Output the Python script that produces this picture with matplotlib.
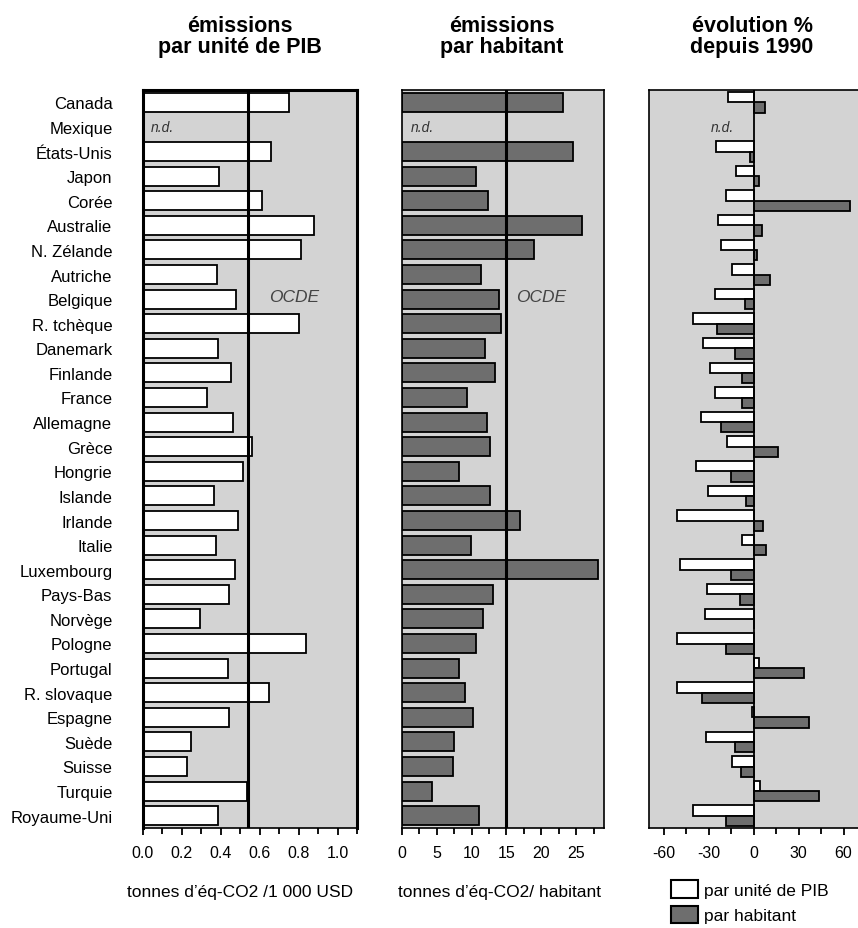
import matplotlib
matplotlib.use("Agg")
import matplotlib.pyplot as plt
import numpy as np
from matplotlib.patches import Patch
from matplotlib.ticker import MultipleLocator

plt.rcParams['font.family'] = ['Liberation Sans', 'DejaVu Sans']

pays = ["Canada", "Mexique", "États-Unis", "Japon", "Corée", "Australie", "N. Zélande",
        "Autriche", "Belgique", "R. tchèque", "Danemark", "Finlande", "France", "Allemagne",
        "Grèce", "Hongrie", "Islande", "Irlande", "Italie", "Luxembourg", "Pays-Bas",
        "Norvège", "Pologne", "Portugal", "R. slovaque", "Espagne", "Suède", "Suisse",
        "Turquie", "Royaume-Uni"]

# tonnes d'éq-CO2 / 1 000 USD
par_pib = [0.75, np.nan, 0.66, 0.39, 0.61, 0.88, 0.81, 0.38, 0.48, 0.80, 0.385, 0.45,
           0.33, 0.465, 0.56, 0.515, 0.365, 0.49, 0.375, 0.475, 0.44, 0.295, 0.84, 0.435,
           0.65, 0.44, 0.245, 0.225, 0.535, 0.385]
ocde_pib = 0.54

# tonnes d'éq-CO2 / habitant
par_hab = [23.1, np.nan, 24.5, 10.6, 12.4, 25.8, 18.9, 11.3, 13.9, 14.2, 11.9, 13.3,
           9.3, 12.2, 12.6, 8.2, 12.6, 16.9, 9.9, 28.1, 13.1, 11.7, 10.6, 8.2, 9.1, 10.2,
           7.5, 7.3, 4.3, 11.1]
ocde_hab = 15

# évolution % depuis 1990
evol_pib = [-17.4, np.nan, -25.2, -11.6, -18.8, -24.2, -22.1, -14.5, -25.9, -40.9, -33.6,
            -29.3, -25.9, -35.3, -17.7, -38.7, -30.4, -51.2, -8.0, -49.2, -31.3, -32.4,
            -51.4, 3.4, -51.4, -1.1, -32.0, -14.8, 4.3, -40.9]
evol_hab = [7.6, np.nan, -2.2, 3.4, 64.4, 5.6, 2.3, 10.7, -6.0, -24.8, -12.3, -7.8, -8.0,
            -21.9, 15.9, -15.4, -5.1, 6.3, 8.5, -15.4, -9.2, 0.0, -18.5, 33.8, -34.6, 37.2,
            -12.3, -8.3, 43.4, -18.5]

GRIS = "#d3d3d3"
FONCE = "#6e6e6e"
W, H = 858, 929

fig = plt.figure(figsize=(W / 100, H / 100), dpi=100)
fig.patch.set_facecolor("white")

def rect(x0, x1):
    return [x0 / W, 1 - 829 / H, (x1 - x0) / W, 738 / H]

ax1 = fig.add_axes(rect(143, 357))
ax2 = fig.add_axes(rect(402, 604))
ax3 = fig.add_axes(rect(649, 860))

y = np.arange(len(pays))

for ax in (ax1, ax2, ax3):
    ax.set_facecolor(GRIS)
    ax.set_ylim(len(pays) - 0.5, -0.5)
    ax.tick_params(axis='y', length=0)
    ax.tick_params(axis='x', which='both', direction='out', length=5, width=1.3,
                   labelsize=11.5, pad=7)
    ax.tick_params(axis='x', which='minor', length=4)
    for s in ax.spines.values():
        s.set_linewidth(1.2)

# panneau 1
ax1.barh(y, par_pib, height=0.78, color="white", edgecolor="black", linewidth=1.3, zorder=2)
ax1.axvline(ocde_pib, color="black", lw=2.2, zorder=3)
ax1.set_xlim(0, 1.1)
ax1.xaxis.set_major_locator(MultipleLocator(0.2))
ax1.xaxis.set_minor_locator(MultipleLocator(0.1))
ax1.set_xticks([0, 0.2, 0.4, 0.6, 0.8, 1.0])
ax1.set_xticklabels(["0.0", "0.2", "0.4", "0.6", "0.8", "1.0"])
ax1.set_yticks(y)
ax1.set_yticklabels(pays, fontsize=12)
ax1.tick_params(axis='y', pad=22)
for s in ("left", "top", "right"):
    ax1.spines[s].set_linewidth(2.2)
ax1.text(0.04, 1, "n.d.", style="italic", fontsize=10, color="#333333", va="center")
ax1.text(0.775, 7.9, "OCDE", style="italic", fontsize=12.5, color="#444444",
         ha="center", va="center")

# panneau 2
ax2.barh(y, par_hab, height=0.78, color=FONCE, edgecolor="black", linewidth=1.3, zorder=2)
ax2.axvline(ocde_hab, color="black", lw=2.2, zorder=3)
ax2.set_xlim(0, 29)
ax2.xaxis.set_major_locator(MultipleLocator(5))
ax2.xaxis.set_minor_locator(MultipleLocator(2.5))
ax2.set_yticks([])
ax2.text(1.3, 1, "n.d.", style="italic", fontsize=10, color="#333333", va="center")
ax2.text(20, 7.9, "OCDE", style="italic", fontsize=12.5, color="#444444",
         ha="center", va="center")

# panneau 3
ax3.barh(y - 0.21, evol_pib, height=0.42, color="white", edgecolor="black", linewidth=1.3,
         zorder=2)
ax3.barh(y + 0.21, evol_hab, height=0.42, color=FONCE, edgecolor="black", linewidth=1.3,
         zorder=2)
ax3.axvline(0, color="black", lw=1.3, zorder=3)
ax3.set_xlim(-70, 71)
ax3.xaxis.set_major_locator(MultipleLocator(30))
ax3.xaxis.set_minor_locator(MultipleLocator(15))
ax3.set_xticks([-60, -30, 0, 30, 60])
ax3.set_xticklabels(["-60", "-30", "0", "30", "60"])
ax3.set_yticks([])
ax3.text(-29, 1, "n.d.", style="italic", fontsize=10, color="#333333", va="center")

# titres
titre = dict(fontweight="bold", fontsize=15.5, ha="center", va="center", linespacing=1.05)
fig.text(240 / W, 1 - 37 / H, "émissions\npar unité de PIB", **titre)
fig.text(502 / W, 1 - 37 / H, "émissions\npar habitant", **titre)
fig.text(752 / W, 1 - 37 / H, "évolution %\ndepuis 1990", **titre)

fig.text(240 / W, 1 - 893 / H, "tonnes d’éq-CO2 /1 000 USD", fontsize=12.5, ha="center",
         va="center")
fig.text(500 / W, 1 - 893 / H, "tonnes d’éq-CO2/ habitant", fontsize=12.5, ha="center",
         va="center")

handles = [Patch(facecolor="white", edgecolor="black", linewidth=1.5),
           Patch(facecolor=FONCE, edgecolor="black", linewidth=1.5)]
fig.legend(handles, ["par unité de PIB", "par habitant"], loc="upper left",
           bbox_to_anchor=(668 / W, 1 - 878 / H), frameon=False, fontsize=12.5,
           handlelength=1.55, handleheight=1.15, handletextpad=0.35, labelspacing=0.45,
           borderaxespad=0, borderpad=0.2)

fig.savefig("out.png", dpi=100)
